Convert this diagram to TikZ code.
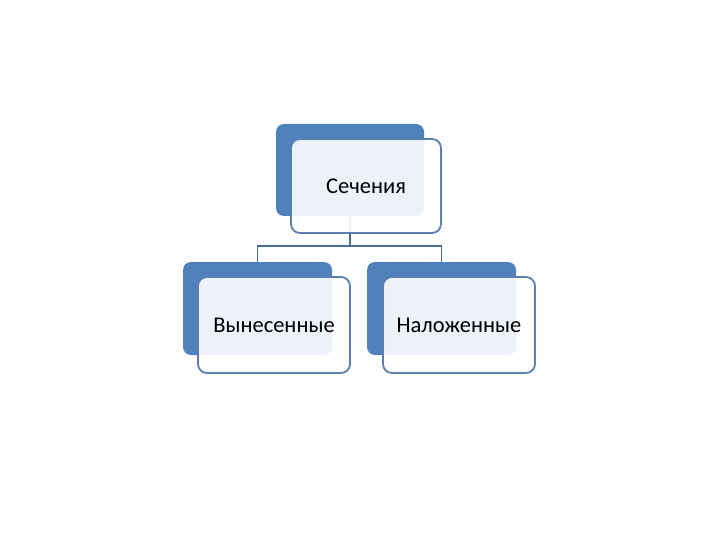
\documentclass[tikz,border=0pt]{standalone}
\usepackage{fontspec}
\setmainfont{Carlito}
\begin{document}
\begin{tikzpicture}[x=1pt,y=-1pt,
  backbox/.style={fill=backblue, draw=none, rounded corners=8pt, minimum width=149pt, minimum height=93pt, inner sep=0pt},
  frontbox/.style={fill=white, fill opacity=0.9, text opacity=1, draw=lineblue, line width=1.8pt, rounded corners=9pt, minimum width=151pt, minimum height=95pt, inner sep=0pt, font=\fontsize{22.5}{26}\selectfont},
  conn/.style={draw=connblue, line width=1.8pt}]
\definecolor{backblue}{HTML}{4F81BD}
\definecolor{lineblue}{HTML}{5A7FB0}
\definecolor{connblue}{HTML}{4A6A98}
\useasboundingbox (0,0) rectangle (720,540);
\fill[white] (0,0) rectangle (720,540);
% back boxes
\node[backbox, minimum width=148pt, minimum height=92pt] (tb) at (350,170) {};
\node[backbox] (lb) at (257.5,308.5) {};
\node[backbox] (rb) at (441.5,308.5) {};
% connectors
\draw[conn] (tb.south) -- ++(0,30) coordinate (j) -| (lb.north);
\draw[conn] (j) -| (rb.north);
% front boxes
\node[frontbox, minimum width=150pt, minimum height=94pt] (tf) at (366,186) {Сечения};
\node[frontbox, minimum width=152pt, minimum height=96pt] (lf) at (274,325) {Вынесенные};
\node[frontbox, minimum width=152pt, minimum height=96pt] (rf) at (459,325) {Наложенные};
\end{tikzpicture}
\end{document}
